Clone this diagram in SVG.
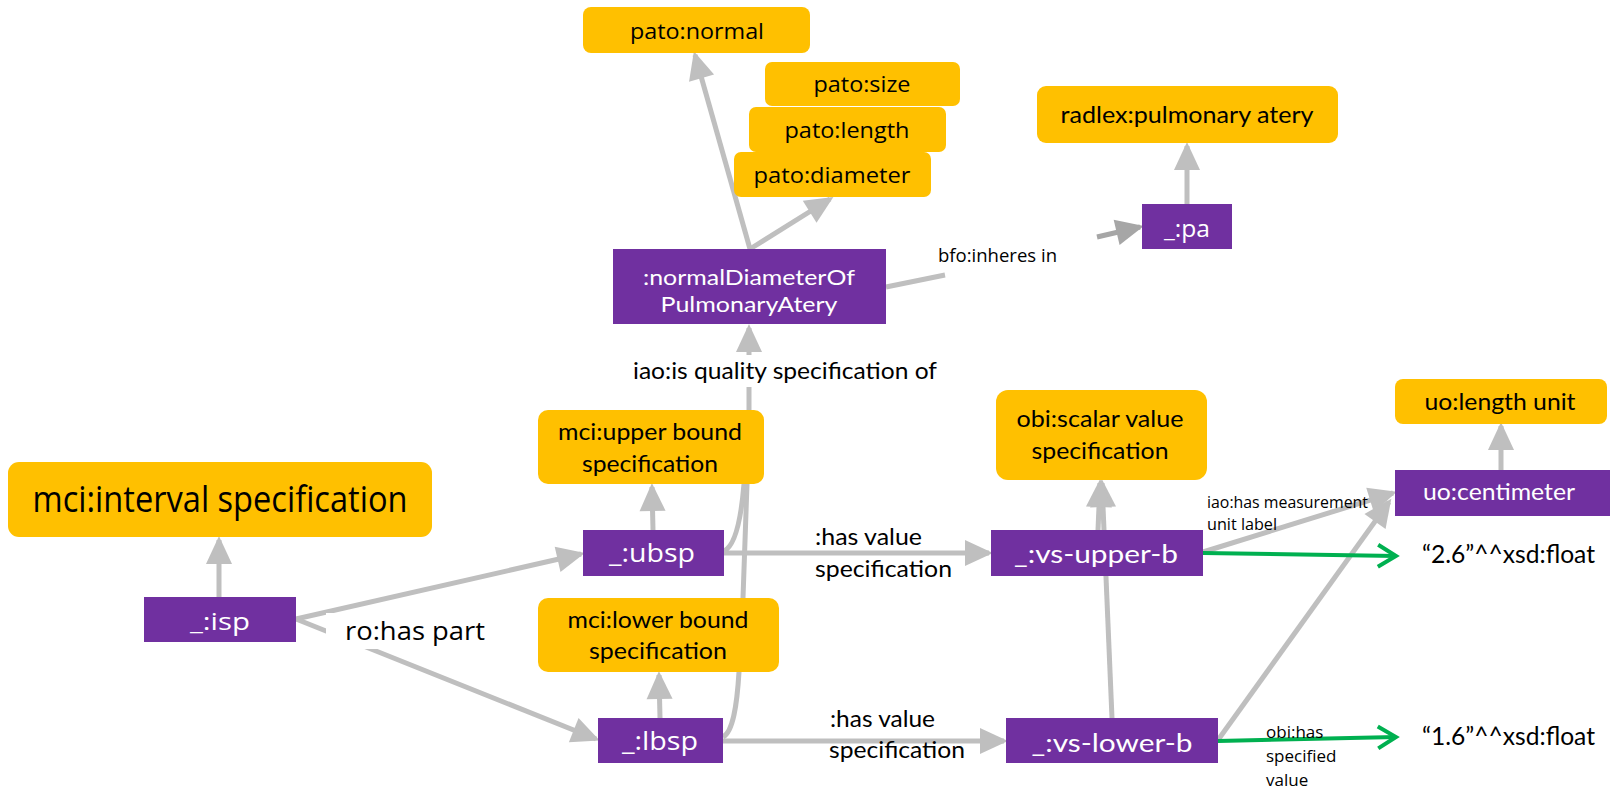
<svg xmlns="http://www.w3.org/2000/svg" width="1610" height="793" viewBox="0 0 1610 793">
<style>
.o{fill:#FFC000}
.p{fill:#7030A0}
.os{font-family:"Open Sans","Liberation Sans",sans-serif}
.la{font-family:Lato,"Liberation Sans",sans-serif}
.wt{fill:#fff}
.bk{fill:#000}
.mid{text-anchor:middle}
.e{fill:none;stroke:#BFBFBF;stroke-width:5}
.ed{fill:none;stroke:#A6A6A6;stroke-width:5}
.g{fill:none;stroke:#00B050;stroke-width:4}
</style>
<defs>
<marker id="ah" markerUnits="userSpaceOnUse" markerWidth="28" markerHeight="26" viewBox="0 0 28 26" refX="24" refY="13" orient="auto" overflow="visible"><path d="M0,0 L28,13 L0,26 z" fill="#BFBFBF"/></marker>
<marker id="ahd" markerUnits="userSpaceOnUse" markerWidth="28" markerHeight="26" viewBox="0 0 28 26" refX="24" refY="13" orient="auto" overflow="visible"><path d="M0,0 L28,13 L0,26 z" fill="#A6A6A6"/></marker>
<marker id="gh" markerUnits="userSpaceOnUse" markerWidth="20" markerHeight="24" viewBox="0 0 20 24" refX="18" refY="12" orient="auto" overflow="visible"><path d="M0,1 L18,12 L0,23" fill="none" stroke="#00B050" stroke-width="4"/></marker>
</defs>
<rect width="1610" height="793" fill="#fff"/>
<g id="connectors">
<line class="e" x1="219" y1="597" x2="219" y2="540" marker-end="url(#ah)"/>
<line class="e" x1="296" y1="619" x2="581" y2="554" marker-end="url(#ah)"/>
<line class="e" x1="296" y1="619" x2="596" y2="739" marker-end="url(#ah)"/>
<line class="e" x1="653" y1="530" x2="652" y2="487" marker-end="url(#ah)"/>
<line class="e" x1="660" y1="718" x2="659" y2="675" marker-end="url(#ah)"/>
<line class="e" x1="724" y1="553" x2="989" y2="553" marker-end="url(#ah)"/>
<line class="e" x1="723" y1="741" x2="1004" y2="741" marker-end="url(#ah)"/>
<line class="e" x1="1112" y1="718" x2="1102" y2="483" marker-end="url(#ah)"/>
<line class="e" x1="1098" y1="530" x2="1100" y2="483" marker-end="url(#ah)"/>
<line class="e" x1="1203" y1="552" x2="1393" y2="493" marker-end="url(#ah)"/>
<line class="e" x1="1218" y1="740" x2="1389" y2="502" marker-end="url(#ah)"/>
<line class="e" x1="1501" y1="470" x2="1501" y2="426" marker-end="url(#ah)"/>
<line class="e" x1="1187" y1="204" x2="1187" y2="146" marker-end="url(#ah)"/>
<line class="e" x1="750" y1="249" x2="695" y2="55" marker-end="url(#ah)"/>
<line class="e" x1="750" y1="249" x2="830" y2="199" marker-end="url(#ah)"/>
<line class="e" x1="886" y1="287" x2="945" y2="275"/>
<line class="ed" x1="1097" y1="237" x2="1140" y2="227" marker-end="url(#ahd)"/>
<path class="e" d="M724,551 C735,546 741,520 744,484 L746,410"/>
<path class="e" d="M723,737 C733,732 737,705 739,672 L743,598 L747,484 L749,410"/>
<line class="e" x1="749" y1="412" x2="749" y2="328" marker-end="url(#ah)"/>
<line class="g" x1="1203" y1="553" x2="1396" y2="556" marker-end="url(#gh)"/>
<line class="g" x1="1218" y1="741" x2="1396" y2="737" marker-end="url(#gh)"/>
<rect x="628" y="355" width="314" height="32" fill="#fff"/>
<text class="la bk" x="633" y="379" font-size="24" textLength="304" lengthAdjust="spacingAndGlyphs">iao:is quality specification of</text>
<rect x="326" y="613" width="166" height="36" fill="#fff"/>
<text class="os bk" x="345" y="640" font-size="26" textLength="140" lengthAdjust="spacingAndGlyphs">ro:has part</text>
<text class="la bk" x="815" y="545" font-size="23" textLength="107" lengthAdjust="spacingAndGlyphs">:has value</text>
<text class="la bk" x="815" y="577" font-size="23" textLength="137" lengthAdjust="spacingAndGlyphs">specification</text>
<text class="la bk" x="830" y="727" font-size="23" textLength="105" lengthAdjust="spacingAndGlyphs">:has value</text>
<text class="la bk" x="829" y="758" font-size="23" textLength="136" lengthAdjust="spacingAndGlyphs">specification</text>
<text class="os bk" x="938" y="262" font-size="19" textLength="119" lengthAdjust="spacingAndGlyphs">bfo:inheres in</text>
<text class="os bk" x="1207" y="508" font-size="16" textLength="161" lengthAdjust="spacingAndGlyphs">iao:has measurement</text>
<text class="os bk" x="1207" y="530" font-size="16" textLength="70" lengthAdjust="spacingAndGlyphs">unit label</text>
<text class="os bk" x="1266" y="738" font-size="17">obi:has</text>
<text class="os bk" x="1266" y="762" font-size="17">specified</text>
<text class="os bk" x="1266" y="786" font-size="17">value</text>
</g>
<g id="n-pato-normal"><rect class="o" x="583" y="7" width="227" height="46" rx="8"/><text class="os bk mid" x="697" y="39" font-size="22" textLength="134" lengthAdjust="spacingAndGlyphs">pato:normal</text></g>
<g id="n-pato-size"><rect class="o" x="765" y="62" width="195" height="44" rx="7"/><text class="os bk mid" x="862" y="92" font-size="22" textLength="97" lengthAdjust="spacingAndGlyphs">pato:size</text></g>
<g id="n-pato-length"><rect class="o" x="749" y="107" width="197" height="45" rx="7"/><text class="os bk mid" x="847" y="138" font-size="22" textLength="125" lengthAdjust="spacingAndGlyphs">pato:length</text></g>
<g id="n-pato-diameter"><rect class="o" x="734" y="152" width="197" height="45" rx="7"/><text class="os bk mid" x="832" y="183" font-size="22" textLength="157" lengthAdjust="spacingAndGlyphs">pato:diameter</text></g>
<g id="n-radlex"><rect class="o" x="1037" y="86" width="301" height="57" rx="9"/><text class="la bk mid" x="1187" y="123" font-size="24" textLength="253" lengthAdjust="spacingAndGlyphs">radlex:pulmonary atery</text></g>
<g id="n-normalDiameter"><rect class="p" x="613" y="249" width="273" height="75"/><text class="la wt mid" x="749" y="285" font-size="22" textLength="212" lengthAdjust="spacingAndGlyphs">:normalDiameterOf</text><text class="la wt mid" x="749" y="312" font-size="22" textLength="177" lengthAdjust="spacingAndGlyphs">PulmonaryAtery</text></g>
<g id="n-pa"><rect class="p" x="1142" y="204" width="90" height="45"/><text class="os wt mid" x="1187" y="237" font-size="24" textLength="46" lengthAdjust="spacingAndGlyphs">_:pa</text></g>
<g id="n-interval"><rect class="o" x="8" y="462" width="424" height="75" rx="11"/><text class="os bk mid" x="220" y="512" font-size="36" textLength="375" lengthAdjust="spacingAndGlyphs">mci:interval specification</text></g>
<g id="n-isp"><rect class="p" x="144" y="597" width="152" height="45"/><text class="os wt mid" x="220" y="630" font-size="24" textLength="60" lengthAdjust="spacingAndGlyphs">_:isp</text></g>
<g id="n-upper-bound"><rect class="o" x="538" y="410" width="226" height="74" rx="10"/><text class="la bk mid" x="650" y="440" font-size="23" textLength="184" lengthAdjust="spacingAndGlyphs">mci:upper bound</text><text class="la bk mid" x="650" y="472" font-size="23" textLength="136" lengthAdjust="spacingAndGlyphs">specification</text></g>
<g id="n-lower-bound"><rect class="o" x="538" y="598" width="241" height="74" rx="10"/><text class="la bk mid" x="658" y="628" font-size="23" textLength="181" lengthAdjust="spacingAndGlyphs">mci:lower bound</text><text class="la bk mid" x="658" y="659" font-size="23" textLength="138" lengthAdjust="spacingAndGlyphs">specification</text></g>
<g id="n-ubsp"><rect class="p" x="583" y="530" width="141" height="46"/><text class="os wt mid" x="652" y="562" font-size="26" textLength="86" lengthAdjust="spacingAndGlyphs">_:ubsp</text></g>
<g id="n-lbsp"><rect class="p" x="598" y="718" width="125" height="45"/><text class="os wt mid" x="660" y="750" font-size="25" textLength="76" lengthAdjust="spacingAndGlyphs">_:lbsp</text></g>
<g id="n-scalar"><rect class="o" x="996" y="390" width="211" height="90" rx="12"/><text class="la bk mid" x="1100" y="427" font-size="23" textLength="167" lengthAdjust="spacingAndGlyphs">obi:scalar value</text><text class="la bk mid" x="1100" y="459" font-size="23" textLength="137" lengthAdjust="spacingAndGlyphs">specification</text></g>
<g id="n-vs-upper"><rect class="p" x="991" y="530" width="212" height="46"/><text class="la wt mid" x="1096" y="563" font-size="25" textLength="164" lengthAdjust="spacingAndGlyphs">_:vs-upper-b</text></g>
<g id="n-vs-lower"><rect class="p" x="1006" y="718" width="212" height="45"/><text class="la wt mid" x="1112" y="752" font-size="25" textLength="161" lengthAdjust="spacingAndGlyphs">_:vs-lower-b</text></g>
<g id="n-length-unit"><rect class="o" x="1395" y="379" width="212" height="45" rx="8"/><text class="la bk mid" x="1500" y="410" font-size="24" textLength="151" lengthAdjust="spacingAndGlyphs">uo:length unit</text></g>
<g id="n-centimeter"><rect class="p" x="1395" y="470" width="215" height="46"/><text class="la wt mid" x="1499" y="500" font-size="24" textLength="152" lengthAdjust="spacingAndGlyphs">uo:centimeter</text></g>
<g id="n-lit-upper"><text class="la bk" x="1422" y="563" font-size="25" textLength="173" lengthAdjust="spacingAndGlyphs">“2.6”^^xsd:float</text></g>
<g id="n-lit-lower"><text class="la bk" x="1422" y="745" font-size="25" textLength="173" lengthAdjust="spacingAndGlyphs">“1.6”^^xsd:float</text></g>
</svg>
